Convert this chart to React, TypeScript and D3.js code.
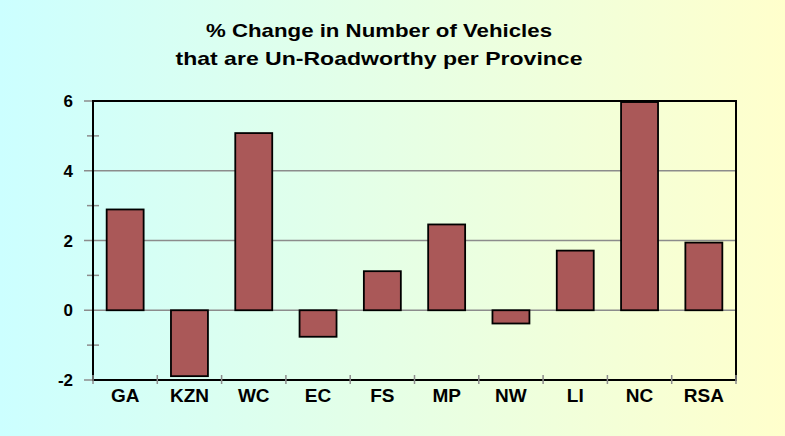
import { useEffect, useRef } from 'react';
import * as d3 from 'd3';

const provinces = ['GA', 'KZN', 'WC', 'EC', 'FS', 'MP', 'NW', 'LI', 'NC', 'RSA'];
const pctChange = [2.89, -1.89, 5.08, -0.76, 1.12, 2.46, -0.38, 1.71, 5.97, 1.94];
const yTicks = [-2, 0, 2, 4, 6];
const yMinorTicks = [-1, 1, 3, 5];
const titleLines = ['%  Change in Number of Vehicles', 'that are Un-Roadworthy per Province'];
const titleWidths = [346, 407];

export default function App() {
  const svgRef = useRef<SVGSVGElement | null>(null);

  useEffect(() => {
    document.body.style.margin = '0';
    if (!svgRef.current) return;

    const width = 785;
    const height = 436;
    const margin = { top: 101, right: 49, bottom: 56, left: 93 };
    const font = 'Liberation Sans, Arial, sans-serif';

    d3.select(svgRef.current).selectAll('*').remove();

    const svg = d3.select(svgRef.current).attr('width', width).attr('height', height);

    // background gradient, cyan to pale yellow
    const grad = svg
      .append('defs')
      .append('linearGradient')
      .attr('id', 'bg')
      .attr('x1', '0%')
      .attr('x2', '100%')
      .attr('y1', '0%')
      .attr('y2', '0%');
    grad.append('stop').attr('offset', '0%').attr('stop-color', '#ccffff');
    grad.append('stop').attr('offset', '100%').attr('stop-color', '#ffffcc');

    svg.append('rect').attr('width', width).attr('height', height).attr('fill', 'url(#bg)');

    const x = d3
      .scaleBand()
      .domain(provinces)
      .range([margin.left, width - margin.right])
      .paddingInner(0.425)
      .paddingOuter(0.2125);

    const y = d3
      .scaleLinear()
      .domain([-2, 6])
      .range([height - margin.bottom, margin.top]);

    // Title
    svg
      .append('g')
      .selectAll('text')
      .data(titleLines)
      .join('text')
      .attr('x', 379)
      .attr('y', (_d, i) => 36.5 + i * 28.5)
      .attr('text-anchor', 'middle')
      .attr('textLength', (_d, i) => titleWidths[i])
      .attr('lengthAdjust', 'spacingAndGlyphs')
      .style('font-family', font)
      .style('font-weight', 'bold')
      .style('font-size', '19px')
      .text((d) => d);

    // gridlines
    svg
      .append('g')
      .selectAll('line')
      .data(yTicks)
      .join('line')
      .attr('x1', margin.left - 9)
      .attr('x2', width - margin.right)
      .attr('y1', (d) => y(d))
      .attr('y2', (d) => y(d))
      .attr('stroke', '#8c8c8c')
      .attr('stroke-width', 1.5);

    // minor ticks on y axis
    svg
      .append('g')
      .selectAll('line')
      .data(yMinorTicks)
      .join('line')
      .attr('x1', margin.left - 6)
      .attr('x2', margin.left + 6)
      .attr('y1', (d) => y(d))
      .attr('y2', (d) => y(d))
      .attr('stroke', '#8c8c8c')
      .attr('stroke-width', 1.5);

    // bars
    svg
      .append('g')
      .selectAll('rect')
      .data(pctChange)
      .join('rect')
      .attr('x', (_d, i) => x(provinces[i]) as number)
      .attr('width', x.bandwidth())
      .attr('y', (d) => y(Math.max(0, d)))
      .attr('height', (d) => Math.abs(y(d) - y(0)))
      .attr('fill', '#aa5858')
      .attr('stroke', '#000')
      .attr('stroke-width', 1.8);

    // plot frame
    svg
      .append('rect')
      .attr('x', margin.left)
      .attr('y', margin.top)
      .attr('width', width - margin.left - margin.right)
      .attr('height', height - margin.top - margin.bottom)
      .attr('fill', 'none')
      .attr('stroke', '#000')
      .attr('stroke-width', 2);

    // x ticks at category boundaries
    const step = x.step();
    const boundaries = d3.range(provinces.length + 1).map((i) => margin.left + i * step);
    svg
      .append('g')
      .selectAll('line')
      .data(boundaries)
      .join('line')
      .attr('x1', (d) => d)
      .attr('x2', (d) => d)
      .attr('y1', y(-2) - 5)
      .attr('y2', y(-2) + 4)
      .attr('stroke', '#8c8c8c')
      .attr('stroke-width', 1.5);

    // y labels
    svg
      .append('g')
      .selectAll('text')
      .data(yTicks)
      .join('text')
      .attr('x', 73)
      .attr('y', (d) => y(d))
      .attr('dy', '0.36em')
      .attr('text-anchor', 'end')
      .style('font-family', font)
      .style('font-weight', 'bold')
      .style('font-size', '17px')
      .text((d) => d);

    // x labels
    svg
      .append('g')
      .selectAll('text')
      .data(provinces)
      .join('text')
      .attr('x', (d) => (x(d) as number) + x.bandwidth() / 2)
      .attr('y', 402)
      .attr('text-anchor', 'middle')
      .style('font-family', font)
      .style('font-weight', 'bold')
      .style('font-size', '19px')
      .text((d) => d);
  }, []);

  return <svg ref={svgRef} style={{ display: 'block' }} />;
}
